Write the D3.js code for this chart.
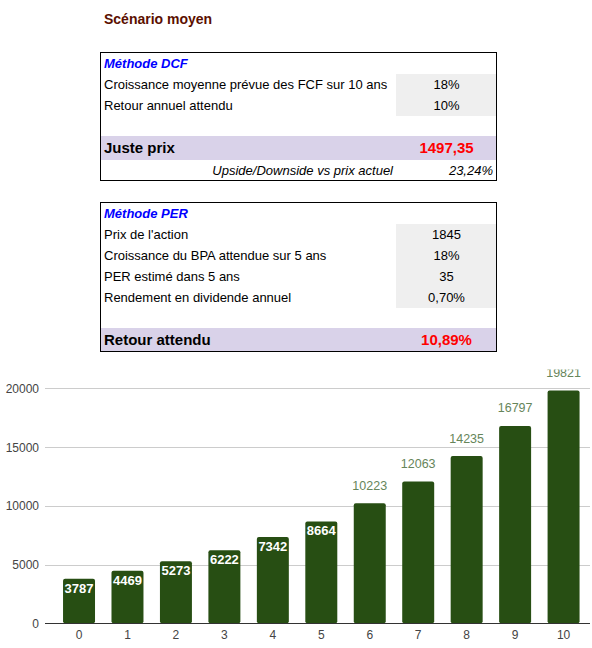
<!DOCTYPE html>
<html><head><meta charset="utf-8">
<script src="https://cdn.jsdelivr.net/npm/d3@7/dist/d3.min.js"></script>
<style>
html,body{margin:0;padding:0;background:#fff;}
svg{display:block;font-family:Arial,"Liberation Sans",sans-serif;}
</style></head>
<body>
<svg id="c" width="592" height="648"></svg>
<script>
const title = "Scénario moyen";
const dcfTitle = "Méthode DCF";
const dcfLabels = ["Croissance moyenne prévue des FCF sur 10 ans", "Retour annuel attendu"];
const dcfValues = ["18%", "10%"];
const dcfResultLabel = "Juste prix";
const dcfResultValue = "1497,35";
const upsideLabel = "Upside/Downside vs prix actuel";
const upsideValue = "23,24%";
const perTitle = "Méthode PER";
const perLabels = ["Prix de l'action", "Croissance du BPA attendue sur 5 ans", "PER estimé dans 5 ans", "Rendement en dividende annuel"];
const perValues = ["1845", "18%", "35", "0,70%"];
const perResultLabel = "Retour attendu";
const perResultValue = "10,89%";

const years = [0,1,2,3,4,5,6,7,8,9,10];
const values = [3787,4469,5273,6222,7342,8664,10223,12063,14235,16797,19821];
const yTicks = [0,5000,10000,15000,20000];

const svg = d3.select("#c");

// Title
svg.append("text").attr("x",104).attr("y",24).attr("font-size",14).attr("font-weight","bold")
  .attr("fill","#5b0f00").text(title);

function table(top, titleText, labels, vals, resLabel, resValue, extra){
  const g = svg.append("g");
  const left = 100, right = 497, valX = 396;
  const rowH = 21;
  const rowsTop = top + 22;
  const grayBottom = rowsTop + labels.length*rowH;
  const purpleTop = grayBottom + 20;
  const purpleBottom = purpleTop + 24;
  const bottom = extra ? purpleBottom + 21 : purpleBottom;
  g.append("rect").attr("x",valX).attr("y",rowsTop).attr("width",right-valX).attr("height",grayBottom-rowsTop).attr("fill","#efefef");
  g.append("rect").attr("x",left).attr("y",purpleTop).attr("width",right-left).attr("height",purpleBottom-purpleTop).attr("fill","#d9d2e9");
  g.append("rect").attr("x",left+0.5).attr("y",top+0.5).attr("width",right-left-1).attr("height",bottom-top-1)
    .attr("fill","none").attr("stroke","#000").attr("stroke-width",1);
  g.append("text").attr("x",104).attr("y",top+16).attr("font-size",13).attr("font-weight","bold").attr("font-style","italic")
    .attr("fill","#0000ff").text(titleText);
  g.selectAll("text.l").data(labels).enter().append("text").attr("class","l")
    .attr("x",104).attr("y",(d,i)=>rowsTop+i*rowH+15).attr("font-size",13).attr("fill","#000").text(d=>d);
  g.selectAll("text.v").data(vals).enter().append("text").attr("class","v")
    .attr("x",(valX+right)/2).attr("y",(d,i)=>rowsTop+i*rowH+15).attr("font-size",13).attr("text-anchor","middle").attr("fill","#000").text(d=>d);
  g.append("text").attr("x",104).attr("y",purpleTop+17).attr("font-size",15).attr("font-weight","bold").attr("fill","#000").text(resLabel);
  g.append("text").attr("x",(valX+right)/2).attr("y",purpleTop+17).attr("font-size",15).attr("font-weight","bold")
    .attr("text-anchor","middle").attr("fill","#ff0000").text(resValue);
  if(extra){
    g.append("text").attr("x",393).attr("y",purpleBottom+15).attr("font-size",13).attr("font-style","italic")
      .attr("text-anchor","end").attr("fill","#000").text(extra[0]);
    g.append("text").attr("x",493).attr("y",purpleBottom+15).attr("font-size",13).attr("font-style","italic")
      .attr("text-anchor","end").attr("fill","#000").text(extra[1]);
  }
}
table(52, dcfTitle, dcfLabels, dcfValues, dcfResultLabel, dcfResultValue, [upsideLabel, upsideValue]);
table(202, perTitle, perLabels, perValues, perResultLabel, perResultValue, null);

// Chart
const chartTop = 369.5;
const chart = svg.append("svg").attr("x",0).attr("y",chartTop).attr("width",592).attr("height",648-chartTop)
  .attr("overflow","hidden");
const cg = chart.append("g").attr("transform",`translate(0,${-chartTop})`);

const y = d3.scaleLinear().domain([0,20000]).range([623.3,388.3]);
const x = d3.scaleBand().domain(years).range([54.8,587.8]).paddingInner(0.34).paddingOuter(0.17);

cg.selectAll("line.grid").data(yTicks.filter(t=>t>0)).enter().append("line").attr("class","grid")
  .attr("x1",45).attr("x2",590).attr("y1",d=>Math.round(y(d))+0.5).attr("y2",d=>Math.round(y(d))+0.5)
  .attr("stroke","#cccccc").attr("stroke-width",1);

cg.selectAll("text.yt").data(yTicks).enter().append("text").attr("class","yt")
  .attr("x",39).attr("y",d=>y(d)+4.5).attr("text-anchor","end").attr("font-size",12).attr("fill","#444")
  .text(d=>d);

cg.selectAll("rect.bar").data(values).enter().append("rect").attr("class","bar")
  .attr("x",(d,i)=>x(years[i])).attr("width",x.bandwidth())
  .attr("y",d=>y(d)).attr("height",d=>y(0)-y(d)).attr("rx",2)
  .attr("fill","#274e13");

cg.append("line").attr("x1",45).attr("x2",590).attr("y1",623.5).attr("y2",623.5).attr("stroke","#333").attr("stroke-width",1);

cg.selectAll("text.xt").data(years).enter().append("text").attr("class","xt")
  .attr("x",d=>x(d)+x.bandwidth()/2).attr("y",639).attr("text-anchor","middle").attr("font-size",12).attr("fill","#444")
  .text(d=>d);

const inside = d => d < 10000;
cg.selectAll("text.bl").data(values).enter().append("text").attr("class","bl")
  .attr("x",(d,i)=>x(years[i])+x.bandwidth()/2)
  .attr("y",d=>inside(d)? y(d)+14 : y(d)-13.5)
  .attr("text-anchor","middle")
  .attr("font-size",d=>inside(d)?13:12.5)
  .attr("font-weight",d=>inside(d)?"bold":"normal")
  .attr("fill",d=>inside(d)?"#ffffff":"#66855a")
  .text(d=>d);
</script>
</body></html>
